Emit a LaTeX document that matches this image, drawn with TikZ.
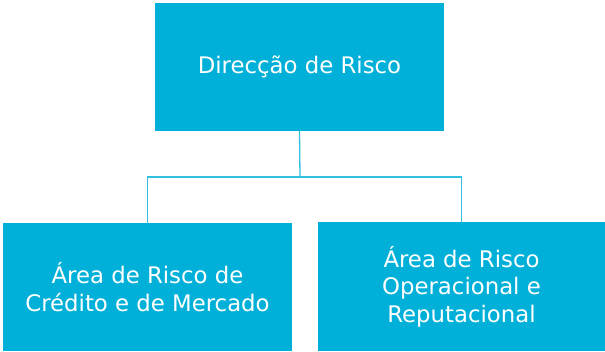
\documentclass[tikz,border=0pt]{standalone}
\usepackage{fontspec}
\setmainfont{DejaVu Sans}
\definecolor{boxblue}{RGB}{0,176,216}
\begin{document}
\begin{tikzpicture}[x=1pt,y=-1pt,
  orgbox/.style={fill=boxblue, draw=none, text=white, align=center, inner sep=0pt,
    font=\fontsize{22.8}{27.5}\selectfont},
  link/.style={draw=boxblue!80, line width=1.3pt}]
\useasboundingbox (0,0) rectangle (605,351);
\node[orgbox, minimum width=289pt, minimum height=128pt] (top) at (299.5,67) {Direcção de Risco};
\node[orgbox, minimum width=289pt, minimum height=128pt] (left) at (147.5,287) {Área de Risco de\\Crédito e de Mercado};
\node[orgbox, minimum width=287pt, minimum height=129pt] (right) at (461.5,286.5) {Área de Risco\\Operacional e\\Reputacional};
\coordinate (mid) at (300,177);
\draw[link] (top.south) -- (mid);
\draw[link] (left.north) |- (mid) -| (right.north);
\end{tikzpicture}
\end{document}
